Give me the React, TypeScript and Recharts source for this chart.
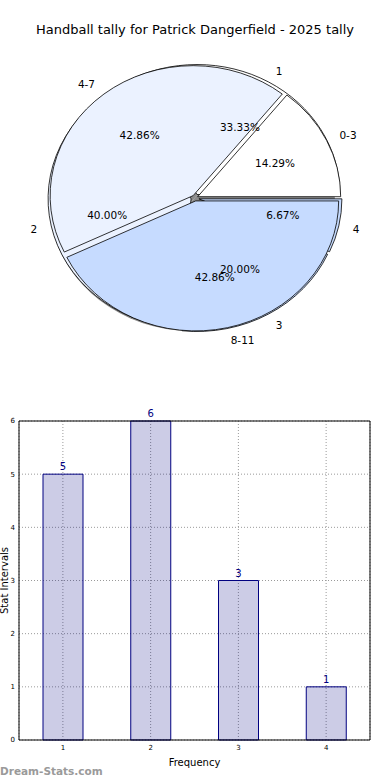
import { Bar, BarChart, CartesianGrid, Cell, LabelList, Pie, PieChart, XAxis, YAxis } from 'recharts';

const ageGroups = ['0-3', '4-7', '8-11'];
const ageCounts = [1, 3, 3];
const freqLabels = ['1', '2', '3', '4'];
const freqCounts = [5, 6, 3, 1];
const yTicks = [0, 1, 2, 3, 4, 5, 6];

const agePie = ageGroups.map((name, i) => ({ name, value: ageCounts[i] }));
const freqPie = freqLabels.map((name, i) => ({ name, value: freqCounts[i] }));
const bars = freqLabels.map((freq, i) => ({ freq, count: freqCounts[i] }));

const FONT = '"DejaVu Sans", sans-serif';
const ageColors = ['#FFFFFF', '#EBF2FF', '#C6DBFF'];
const freqColors = ['#FFFFFF', '#EBF2FF', '#C6DBFF', '#C6DBFF'];

// pie geometry (matplotlib drew it slightly squashed)
const CX = 195;
const CY = 198;
const R = 143;
const SQUASH = 130 / 143;
const EXPLODE = 3;
const RAD = Math.PI / 180;

function point(cx: number, cy: number, r: number, deg: number) {
  return [cx + r * Math.cos(deg * RAD), cy - r * SQUASH * Math.sin(deg * RAD)];
}

function makeWedge(explode: number, dx = 0, dy = 0) {
  return (props: any) => {
    const { startAngle, endAngle, fill, stroke, strokeWidth } = props;
    const mid = (startAngle + endAngle) / 2;
    const cx = CX + dx + explode * Math.cos(mid * RAD);
    const cy = CY + dy - explode * Math.sin(mid * RAD);
    const [x1, y1] = point(cx, cy, R, startAngle);
    const [x2, y2] = point(cx, cy, R, endAngle);
    const large = Math.abs(endAngle - startAngle) > 180 ? 1 : 0;
    const d = `M${cx},${cy} L${x1},${y1} A${R},${R * SQUASH} 0 ${large} 0 ${x2},${y2} Z`;
    return <path d={d} fill={fill} stroke={stroke} strokeWidth={strokeWidth} />;
  };
}

function makeLabel(explode: number) {
  return (props: any) => {
    const { midAngle, percent, name } = props;
    const c = Math.cos(midAngle * RAD);
    const s = Math.sin(midAngle * RAD);
    const ox = CX + explode * c;
    const oy = CY - explode * s;
    const [nx, ny] = point(ox, oy, 1.1 * R, midAngle);
    const [px, py] = point(ox, oy, 0.6 * R, midAngle);
    return (
      <g fontFamily={FONT} fontSize={10.5} fill="#000">
        <text x={nx} y={ny} textAnchor={c >= 0 ? 'start' : 'end'} dominantBaseline="central">{name}</text>
        <text x={px} y={py} textAnchor="middle" dominantBaseline="central">{`${(percent * 100).toFixed(2)}%`}</text>
      </g>
    );
  };
}

const wedgeA = makeWedge(EXPLODE);
const wedgeB = makeWedge(EXPLODE + 1);
const wedgeShadow = makeWedge(0, -3, 3);

export default function App() {
  return (
    <div style={{ position: 'absolute', left: 0, top: 0, width: 390, height: 780, background: '#fff', fontFamily: FONT }}>
      <div style={{ position: 'absolute', top: 22, left: 0, width: 390, textAlign: 'center', fontSize: 13, lineHeight: '16px', color: '#000' }}>
        Handball tally for Patrick Dangerfield - 2025 tally
      </div>

      <div style={{ position: 'absolute', top: 0, left: 0 }}>
        <PieChart width={390} height={390} margin={{ top: 0, right: 0, bottom: 0, left: 0 }}>
          {/* shadow */}
          <Pie data={agePie} dataKey="value" cx={CX} cy={CY} outerRadius={R} startAngle={0} endAngle={360}
            fill="#8a8a8a" stroke="none" shape={wedgeShadow} inactiveShape={wedgeShadow} isAnimationActive={false} />
          <Pie data={freqPie} dataKey="value" cx={CX} cy={CY} outerRadius={R} startAngle={0} endAngle={360}
            stroke="#000" strokeWidth={0.8} shape={wedgeB} inactiveShape={wedgeB} isAnimationActive={false}>
            {freqPie.map((entry, i) => <Cell key={entry.name} fill={freqColors[i]} />)}
          </Pie>
          <Pie data={agePie} dataKey="value" cx={CX} cy={CY} outerRadius={R} startAngle={0} endAngle={360}
            stroke="#000" strokeWidth={0.8} shape={wedgeA} inactiveShape={wedgeA}
            label={makeLabel(EXPLODE)} labelLine={false} isAnimationActive={false}>
            {agePie.map((entry, i) => <Cell key={entry.name} fill={ageColors[i]} />)}
          </Pie>
          {/* labels for the frequency pie, drawn on top */}
          <Pie data={freqPie} dataKey="value" cx={CX} cy={CY} outerRadius={R} startAngle={0} endAngle={360}
            fill="none" stroke="none" label={makeLabel(EXPLODE + 1)} labelLine={false} isAnimationActive={false} />
        </PieChart>
      </div>

      <div style={{ position: 'absolute', top: 400, left: 0 }}>
        <BarChart width={390} height={380} data={bars} margin={{ top: 20, right: 19, bottom: 0, left: 0 }}>
          <CartesianGrid stroke="#9a9a9a" strokeDasharray="1 2" />
          <XAxis dataKey="freq" height={40} stroke="#000" tickLine={false} tickSize={3} tickMargin={2}
            tick={{ fontSize: 7, fill: '#000', fontFamily: FONT }}
            label={{ value: 'Frequency', position: 'insideBottom', offset: 14, fontSize: 10, fill: '#000', fontFamily: FONT }} />
          <XAxis xAxisId="top" dataKey="freq" orientation="top" height={1} tick={false} tickLine={false}
            axisLine={{ stroke: '#000' }} />
          <YAxis width={19} domain={[0, 6]} ticks={yTicks} stroke="#000" tickLine={false} tickSize={3} tickMargin={1}
            tick={{ fontSize: 7, fill: '#000', fontFamily: FONT }}
            label={{ value: 'Stat Intervals', angle: -90, position: 'insideLeft', offset: 4, fontSize: 10, fill: '#000', fontFamily: FONT, style: { textAnchor: 'middle' } }} />
          <YAxis yAxisId="right" orientation="right" width={1} domain={[0, 6]} tick={false} tickLine={false}
            axisLine={{ stroke: '#000' }} />
          <Bar dataKey="count" fill="#000080" fillOpacity={0.2} stroke="#000080" strokeWidth={1} barSize={40} isAnimationActive={false}>
            <LabelList dataKey="count" position="top" offset={4} fill="#000080" fontSize={10} fontFamily={FONT} />
          </Bar>
        </BarChart>
      </div>

      <div style={{ position: 'absolute', left: 0, top: 763, fontSize: 10.5, fontWeight: 'bold', color: '#9a9a9a', lineHeight: '16px' }}>
        Dream-Stats.com
      </div>
    </div>
  );
}
